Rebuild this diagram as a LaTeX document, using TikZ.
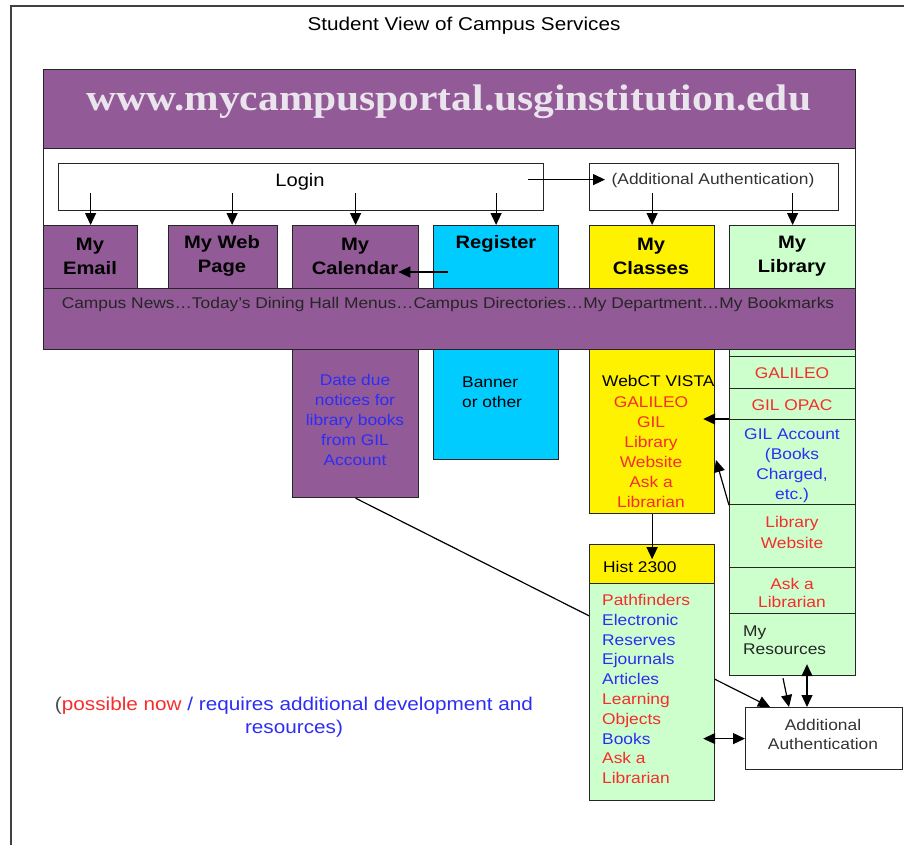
\documentclass[tikz,border=0pt]{standalone}
\usepackage{fontspec}
\setmainfont[FakeStretch=1.12]{Liberation Sans}
\newfontfamily\urlfont[FakeStretch=1.12]{Liberation Serif}
\usetikzlibrary{arrows.meta,calc}
\definecolor{portal}{RGB}{146,90,150}
\definecolor{regcyan}{RGB}{0,204,255}
\definecolor{libgreen}{RGB}{204,255,204}
\definecolor{nowred}{RGB}{245,45,45}
\definecolor{devblue}{RGB}{45,45,245}
\definecolor{urlgrey}{RGB}{234,228,236}
\newcommand\cellbox[6]{%
  \node[cell,fill=#6,minimum width={(#4-#2)*1pt},minimum height={(#5-#3)*1pt}] (#1) at (#2,#3) {};}

\begin{document}
\begin{tikzpicture}[x=1pt,y=-1pt,
    every node/.style={inner sep=0pt},
    cell/.style={draw=black!85,line width=1.2pt,anchor=north west},
    big/.style={font=\fontsize{18}{24}\selectfont\bfseries,align=center},
    small/.style={font=\fontsize{15.5}{20}\selectfont,align=center},
    link/.style={-{Triangle[length=12pt,width=11pt]},line width=1.2pt},
    both/.style={{Triangle[length=12pt,width=11pt]}-{Triangle[length=12pt,width=11pt]},line width=1.2pt}]
  \useasboundingbox (0,0) rectangle (904,845);
  \draw[line width=1.5pt,black!75] (11,860) |- (920,6);
  \node[font=\fontsize{18.5}{20}\selectfont] (title) at (464,26) {Student View of Campus Services};

  \cellbox{panel}{43}{69}{855}{349}{white}
  \cellbox{head}{43}{69}{855}{148}{portal}
  \node[font={\urlfont\fontsize{37}{40}\selectfont\bfseries},text=urlgrey] (url) at (449,102) {www.mycampusportal.usginstitution.edu};

  \cellbox{login}{58}{163}{543}{210}{white}
  \node[font=\fontsize{18}{20}\selectfont] (logintxt) at (300,182) {Login};
  \cellbox{auth}{589}{163}{838}{210}{white}
  \node[font=\fontsize{15.5}{18}\selectfont,text=black!80] (authtxt) at (713,180) {(Additional Authentication)};

  \cellbox{email}{43}{225}{137}{288}{portal}
  \cellbox{web}{168}{225}{277}{288}{portal}
  \cellbox{cal}{292}{225}{418}{497}{portal}
  \cellbox{reg}{433}{225}{558}{459}{regcyan}
  \cellbox{cls}{589}{225}{714}{513}{yellow}
  \cellbox{lib}{729}{225}{855}{356}{libgreen}

  \cellbox{band}{43}{288}{855}{349}{portal}
  \node[font=\fontsize{15.5}{18}\selectfont,text=black!85] (bandtxt) at (448,304)
    {Campus News\dots Today's Dining Hall Menus\dots Campus Directories\dots My Department\dots My Bookmarks};

  \node[big] (emailtxt) at (90,256) {My\\Email};
  \node[big] (webtxt) at (222,256) {My Web\\Page};
  \node[big] (caltxt) at (355,256) {My\\Calendar};
  \node[big] (regtxt) at (496,244) {Register};
  \node[big] (clstxt) at (651,256) {My\\Classes};
  \node[big] (libtxt) at (792,256) {My\\Library};

  \draw[link] (cal.south) -- ($(745,707)+(25,0)$) coordinate (calend);

  \node[small,text=devblue] (duetxt) at (355,420) {Date due\\notices for\\library books\\from GIL\\Account};
  \node[small,align=left,anchor=west] (bannertxt) at (462,392) {Banner\\or other};
  \node[font=\fontsize{15.5}{20}\selectfont,anchor=west] (webct) at (602,381) {WebCT VISTA};
  \node[small,text=nowred] (clsres) at (651,452) {GALILEO\\GIL\\Library\\Website\\Ask a\\Librarian};

  \cellbox{galileo}{729}{356}{855}{388}{libgreen}
  \cellbox{opac}{729}{388}{855}{419}{libgreen}
  \cellbox{gilacc}{729}{419}{855}{504}{libgreen}
  \cellbox{libweb}{729}{504}{855}{567}{libgreen}
  \cellbox{ask}{729}{567}{855}{613}{libgreen}
  \cellbox{myres}{729}{613}{855}{675}{libgreen}
  \node[small,text=nowred] at (792,373) {GALILEO};
  \node[small,text=nowred] at (792,405) {GIL OPAC};
  \node[small,text=devblue] at (792,466) {GIL Account\\(Books\\Charged,\\etc.)};
  \node[small,text=nowred,font=\fontsize{15.5}{21}\selectfont] at (792,532) {Library\\Website};
  \node[small,text=nowred,font=\fontsize{15.5}{18}\selectfont] at (792,593) {Ask a\\Librarian};
  \node[small,align=left,anchor=west,font=\fontsize{15.5}{18}\selectfont,text=black!85] at (743,640) {My\\Resources};

  \cellbox{histhead}{589}{544}{714}{583}{yellow}
  \node[small,anchor=west] (histtxt) at (603,567) {Hist 2300};
  \cellbox{hist}{589}{583}{714}{800}{libgreen}
  \node[small,align=left,anchor=west,font=\fontsize{15.5}{19.8}\selectfont] (histres) at (602,689)
    {\textcolor{nowred}{Pathfinders}\\\textcolor{devblue}{Electronic}\\\textcolor{devblue}{Reserves}\\
     \textcolor{devblue}{Ejournals}\\\textcolor{devblue}{Articles}\\\textcolor{nowred}{Learning}\\
     \textcolor{nowred}{Objects}\\\textcolor{devblue}{Books}\\\textcolor{nowred}{Ask a}\\\textcolor{nowred}{Librarian}};

  \cellbox{addauth}{745}{707}{902}{769}{white}
  \node[small,text=black!80,font=\fontsize{15.5}{19}\selectfont] (addtxt) at (823,734) {Additional\\Authentication};

  \node[font=\fontsize{18.5}{23}\selectfont,align=center] (legend) at (294,717)
    {\textcolor{black!70}{(}\textcolor{nowred}{possible now}\ \textcolor{devblue}{/ requires additional development and}\\
     \textcolor{devblue}{resources)}};

  \foreach \b in {email,cal,reg,cls,lib}
    \draw[link] (\b.north) ++(0,-32) -- (\b.north);
  \draw[link] ([xshift=9pt]web.north) ++(0,-32) -- ([xshift=9pt]web.north);
  \draw[link] ($(login.east)+(-16,-7.5)$) -- ($(auth.west)+(16,-7.5)$);
  \draw[link] (448,272) -- (caltxt.east |- 0,272);
  \draw[link] (gilacc.north west) -- ($(cls.east |- gilacc.north west)+(-12,0)$);
  \draw[link] (gilacc.south west) -- (716,460);
  \draw[link] (cls.south) -- ++(0,45);
  \draw[link] ($(myres.south west)+(54,2)$) -- ($(addauth.north west)+(44,0)$);
  \draw[both] ($(myres.south west)+(78,-12)$) -- ($(addauth.north west)+(62,0)$);
  \draw[both] ($(hist.east |- addauth.west)+(-12,0)$) -- (addauth.west);
\end{tikzpicture}
\end{document}
